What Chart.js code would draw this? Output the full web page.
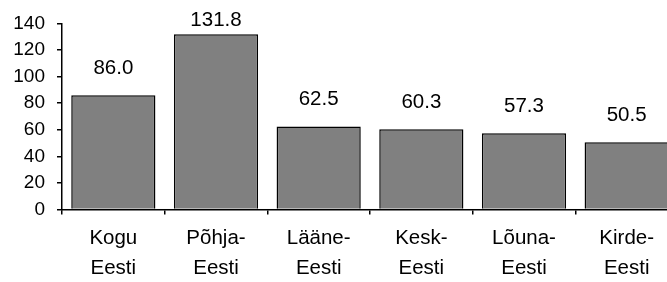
<!DOCTYPE html>
<html>
<head>
<meta charset="utf-8">
<script src="https://cdn.jsdelivr.net/npm/chart.js@4"></script>
<style>
  html, body { margin: 0; padding: 0; background: #fff; overflow: hidden; }
  #wrap { width: 678px; height: 282px; position: relative; }
</style>
</head>
<body>
<div id="wrap"><canvas id="chart"></canvas></div>
<script>
// andmed
const regions = [
  ['Kogu', 'Eesti'],
  ['Põhja-', 'Eesti'],
  ['Lääne-', 'Eesti'],
  ['Kesk-', 'Eesti'],
  ['Lõuna-', 'Eesti'],
  ['Kirde-', 'Eesti']
];
const values = [86.0, 131.8, 62.5, 60.3, 57.3, 50.5];
const yTicks = [0, 20, 40, 60, 80, 100, 120, 140];

const FONT = "'Liberation Sans', Arial, sans-serif";

// numbrid tulpade kohale
const valueLabels = {
  id: 'valueLabels',
  afterDatasetsDraw(chart) {
    const ctx = chart.ctx;
    const meta = chart.getDatasetMeta(0);
    ctx.save();
    ctx.font = '20.5px ' + FONT;
    ctx.fillStyle = '#000';
    ctx.textAlign = 'center';
    ctx.textBaseline = 'middle';
    meta.data.forEach((bar, i) => {
      const y = Math.max(bar.y - 27, 20);
      ctx.fillText(values[i].toFixed(1), bar.x, y);
    });
    ctx.restore();
  }
};

new Chart(document.getElementById('chart'), {
  type: 'bar',
  data: {
    labels: regions,
    datasets: [{
      data: values,
      backgroundColor: '#808080',
      borderColor: '#000',
      borderWidth: 1.5,
      barPercentage: 0.82,
      categoryPercentage: 1.0
    }]
  },
  options: {
    responsive: true,
    maintainAspectRatio: false,
    animation: false,
    layout: { padding: { top: 21, right: 0, left: 0, bottom: 0 } },
    plugins: { legend: { display: false }, tooltip: { enabled: false } },
    scales: {
      x: {
        offset: true,
        grid: { offset: true, drawOnChartArea: false, drawTicks: true, tickLength: 5, color: '#000', lineWidth: 1.5 },
        border: { display: true, color: '#000', width: 1.5 },
        ticks: { color: '#000', font: { family: FONT, size: 20.5, lineHeight: 1.45 }, padding: 9, maxRotation: 0, autoSkip: false },
        afterFit(scale) { scale.height = 72.5; }
      },
      y: {
        min: 0,
        max: 140,
        afterBuildTicks(scale) { scale.ticks = yTicks.map(v => ({ value: v })); },
        grid: { drawOnChartArea: false, drawTicks: true, tickLength: 5, color: '#000', lineWidth: 1.5 },
        border: { display: true, color: '#000', width: 1.5 },
        ticks: { color: '#000', font: { family: FONT, size: 19 }, padding: 12 },
        afterFit(scale) { scale.width = 62; }
      }
    }
  },
  plugins: [valueLabels]
});
</script>
</body>
</html>
